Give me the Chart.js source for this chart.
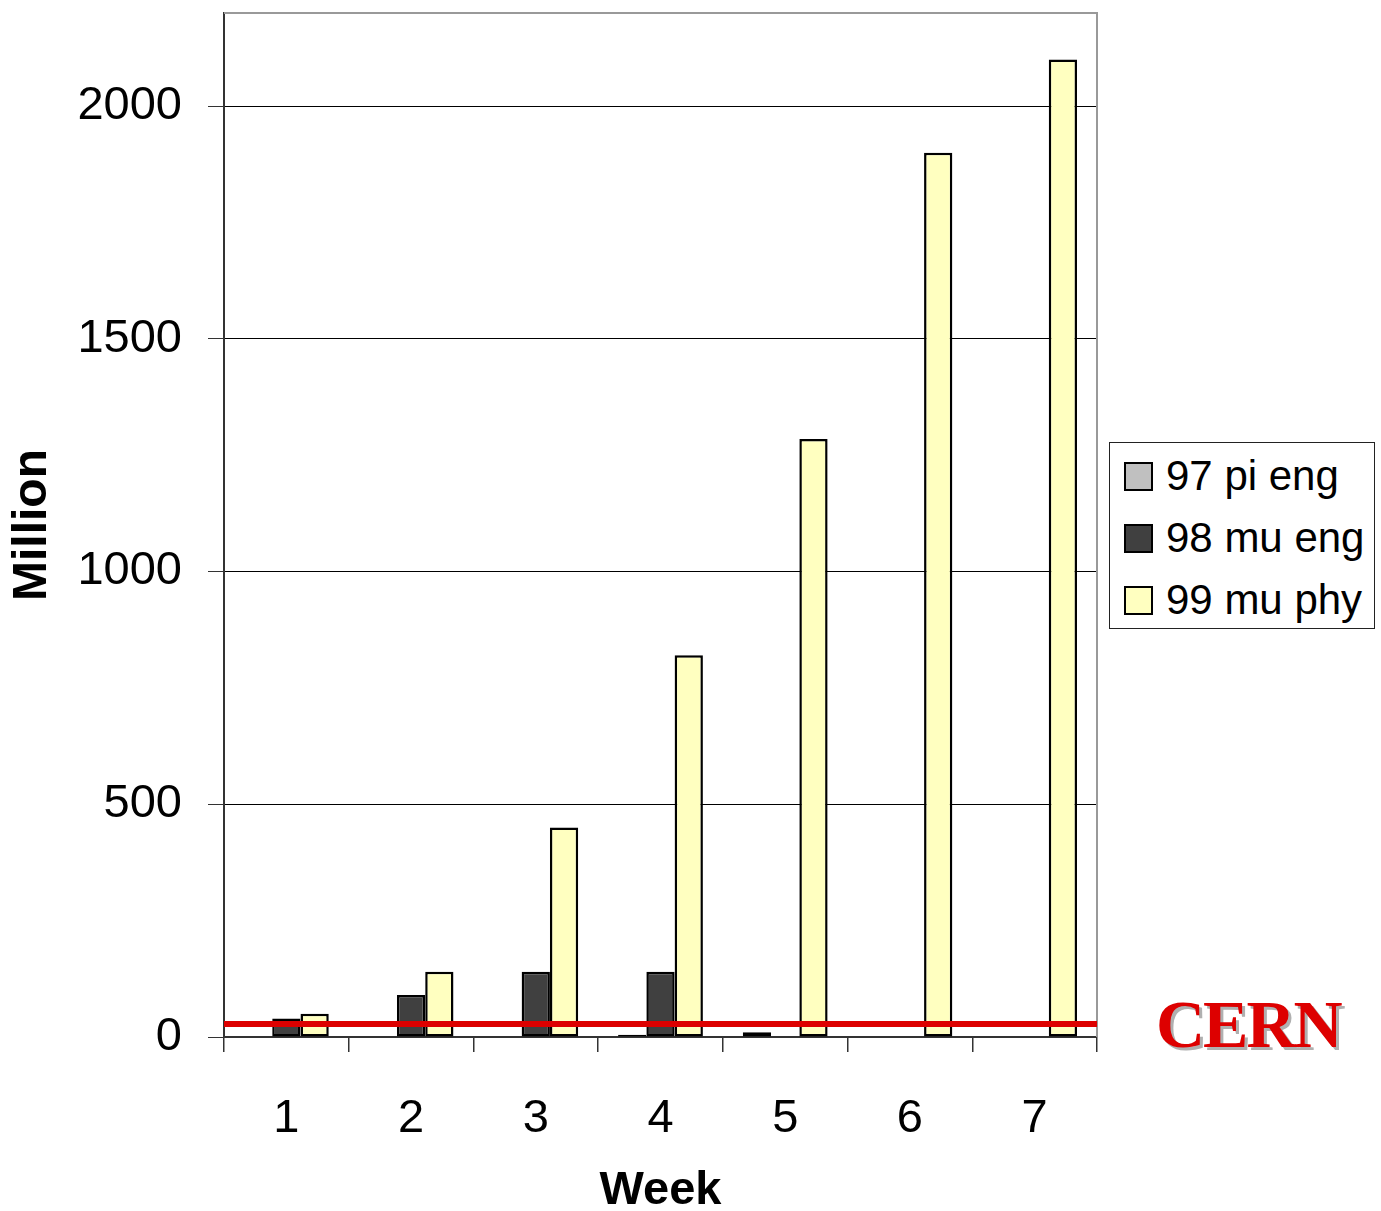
<!DOCTYPE html>
<html>
<head>
<meta charset="utf-8">
<script src="https://cdn.jsdelivr.net/npm/chart.js@4.4.1/dist/chart.umd.min.js"></script>
<style>
  html, body { margin: 0; padding: 0; background: #fff; }
  #wrap { position: relative; width: 1381px; height: 1211px; }
  #legend {
    position: absolute; left: 1109px; top: 442px; width: 266px; height: 187px;
    border: 1px solid #222; background: #fff; box-sizing: border-box;
    font-family: "Liberation Sans", Arial, sans-serif; font-size: 42px; color: #000;
  }
  .item { position: absolute; left: 14px; height: 50px; display: flex; align-items: center; }
  .swatch { width: 29px; height: 29px; box-sizing: border-box; border: 2px solid #000; margin-right: 13px; }
  #cern {
    position: absolute; left: 1156px; top: 990px;
    font-family: "Liberation Serif", "Times New Roman", serif; font-weight: bold;
    font-size: 68px; line-height: 68px; color: #dd0000; letter-spacing: -2px;
    text-shadow: 3px 3px 0 #b0b0b0;
  }
</style>
</head>
<body>
<div id="wrap">
  <canvas id="chart" width="1381" height="1211"></canvas>
  <div id="legend"></div>
  <div id="cern">CERN</div>
</div>
<script>
// 数据
const weeks = ['1', '2', '3', '4', '5', '6', '7'];
const seriesNames = ['97 pi eng', '98 mu eng', '99 mu phy'];
const piEng = [0, 0, 0, 5, 10, 0, 0];
const muEng = [40, 90, 140, 140, 0, 0, 0];
const muPhy = [50, 140, 450, 820, 1285, 1900, 2100];
const yTicks = [0, 500, 1000, 1500, 2000];
const referenceLevel = 28; // red line

const colors = ['#c0c0c0', '#404040', '#ffffc0'];
const font = "'Liberation Sans', Arial, sans-serif";

// frame: grey top/right border, red reference line
const framePlugin = {
  id: 'frame',
  beforeDatasetsDraw(chart) {
    const { ctx, chartArea } = chart;
    ctx.save();
    ctx.strokeStyle = '#999';
    ctx.lineWidth = 2;
    ctx.beginPath();
    ctx.moveTo(chartArea.left, chartArea.top);
    ctx.lineTo(chartArea.right, chartArea.top);
    ctx.lineTo(chartArea.right, chartArea.bottom);
    ctx.stroke();
    ctx.restore();
  },
  afterDatasetsDraw(chart) {
    const { ctx, chartArea, scales } = chart;
    const y = scales.y.getPixelForValue(referenceLevel);
    ctx.save();
    ctx.strokeStyle = '#dd0000';
    ctx.lineWidth = 6;
    ctx.beginPath();
    ctx.moveTo(chartArea.left, y);
    ctx.lineTo(chartArea.right, y);
    ctx.stroke();
    ctx.restore();
  }
};

const ctx = document.getElementById('chart').getContext('2d');
const chart = new Chart(ctx, {
  type: 'bar',
  data: {
    labels: weeks,
    datasets: [piEng, muEng, muPhy].map((d, i) => ({
      label: seriesNames[i],
      data: d,
      backgroundColor: colors[i],
      borderColor: '#000',
      borderWidth: 2.5,
      borderSkipped: false,
      categoryPercentage: 0.68,
      barPercentage: 1
    }))
  },
  options: {
    responsive: false,
    animation: false,
    devicePixelRatio: 1,
    layout: { padding: { top: 13, right: 284, left: 0, bottom: 0 } },
    plugins: {
      legend: { display: false },
      tooltip: { enabled: false }
    },
    scales: {
      x: {
        grid: {
          offset: true,
          drawOnChartArea: false,
          drawTicks: true,
          tickLength: 15,
          tickColor: '#333',
          lineWidth: 1.5
        },
        border: { color: '#333', width: 2 },
        ticks: { color: '#000', padding: 39, font: { family: font, size: 47 } },
        title: {
          display: true, text: 'Week', color: '#000',
          font: { family: font, size: 47, weight: 'bold', lineHeight: 1 },
          padding: { top: 0, bottom: -4 }
        },
        afterFit(scale) {
          scale.height = 1211 - 1037;
          scale.paddingLeft = 0;
          scale.paddingRight = 0;
        }
      },
      y: {
        min: 0,
        max: 2200,
        grid: { color: '#000', lineWidth: 1, tickLength: 16, tickColor: '#333' },
        border: { color: '#333', width: 2 },
        ticks: {
          stepSize: 500, color: '#000', padding: 26, font: { family: font, size: 47 },
          callback: v => String(v)
        },
        afterBuildTicks(scale) {
          scale.ticks = yTicks.map(v => ({ value: v }));
        },
        title: {
          display: true, text: 'Million', color: '#000',
          font: { family: font, size: 48, weight: 'bold', lineHeight: 1 },
          padding: { top: 9, bottom: 0 }
        },
        afterFit(scale) {
          scale.width = 224;
          scale.paddingTop = 0;
          scale.paddingBottom = 0;
        }
      }
    }
  },
  plugins: [framePlugin]
});

// 图例
const legend = document.getElementById('legend');
chart.data.datasets.forEach((ds, i) => {
  const item = document.createElement('div');
  item.className = 'item';
  item.style.top = (8 + i * 62) + 'px';
  item.innerHTML = `<div class="swatch" style="background:${ds.backgroundColor}"></div><span>${ds.label}</span>`;
  legend.appendChild(item);
});
</script>
</body>
</html>
